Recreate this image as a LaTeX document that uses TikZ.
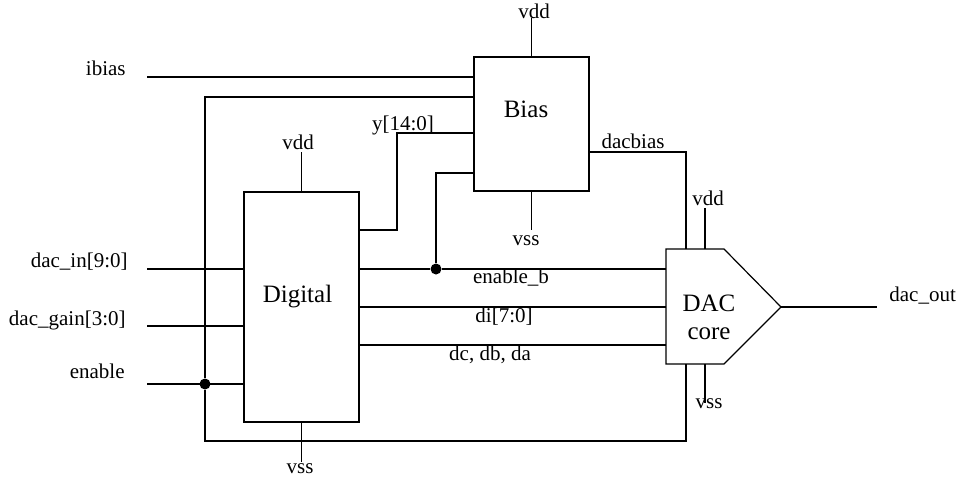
\documentclass[tikz,border=0pt]{standalone}
\usepackage{fontspec}
\setmainfont{Liberation Serif}
\usetikzlibrary{calc}
\tikzset{
  wire/.style={line width=.6pt},
  blk/.style={draw,line width=.6pt,inner sep=0pt},
  lbl/.style={font=\fontsize{10.5}{12}\selectfont,inner sep=1pt},
  blkname/.style={font=\fontsize{12.5}{14}\selectfont,inner sep=0pt},
  joint/.style={circle,fill,inner sep=0pt,minimum size=5.5pt},
}

\begin{document}
\begin{tikzpicture}[x=.5pt,y=-.5pt]
  \useasboundingbox (0,0) rectangle (956,477);

  % blocks
  \node[blk,minimum width=57.5pt,minimum height=115pt] (digital) at (301.5,307) {};
  \node[blkname,anchor=base] (digitaltxt) at (297.5,302) {Digital};
  \node[blk,minimum width=57.5pt,minimum height=67pt] (bias) at (531.5,124) {};
  \node[blkname,anchor=base] (biastxt) at (526,117) {Bias};
  \coordinate (dacnw) at (666,249);
  \coordinate (dacne) at (724,249);
  \coordinate (dactip) at (781,307);
  \coordinate (dacse) at (724,364);
  \coordinate (dacsw) at (666,364);
  \draw[wire] (dacnw) -- (dacne) -- (dactip) -- (dacse) -- (dacsw) -- cycle;
  \node[blkname,anchor=base] (dactxt) at (709,311) {DAC};
  \node[blkname,anchor=base] (coretxt) at (709,339) {core};

  % supply labels
  \node[lbl,anchor=base] (vddbias) at (534,18) {vdd};
  \node[lbl,anchor=base] (vssbias) at (526,245) {vss};
  \node[lbl,anchor=base] (vdddig) at (298,149) {vdd};
  \node[lbl,anchor=base] (vssdig) at (300,473) {vss};
  \node[lbl,anchor=base] (vdddac) at (708,205) {vdd};
  \node[lbl,anchor=base] (vssdac) at (709,408) {vss};
  \draw[wire] (bias.north) -- (bias.north |- vddbias.base);
  \draw[wire] (bias.south) -- (bias.south |- 0,230);
  \draw[wire] (digital.north) -- (digital.north |- 0,152);
  \draw[wire] (digital.south) -- (digital.south |- 0,462);
  \draw[wire] (705,249) -- (705,208);
  \draw[wire] (705,364) -- (705,403);

  % inputs
  \node[lbl,anchor=base east] (ibias) at (128,75) {ibias};
  \node[lbl,anchor=base east] (dacin) at (130,267) {dac\_in[9:0]};
  \node[lbl,anchor=base east] (dacgain) at (128,325) {dac\_gain[3:0]};
  \node[lbl,anchor=base east] (enable) at (127,378) {enable};
  \coordinate (ibiasend) at (147,77);
  \coordinate (dacinend) at (147,269);
  \coordinate (dacgainend) at (147,326);
  \coordinate (enableend) at (147,384);
  \draw[wire] (ibiasend) -- (ibiasend -| bias.west);
  \draw[wire] (dacinend) -- (dacinend -| digital.west);
  \draw[wire] (dacgainend) -- (dacgainend -| digital.west);
  \draw[wire] (enableend) -- (enableend -| digital.west);

  % enable distribution
  \node[joint] (enj) at (205,384) {};
  \coordinate (dacen) at (686,364);
  \draw[wire] (enj) |- (bias.west |- 0,97);
  \draw[wire] (enj) |- (686,441) -- (dacen);

  % digital to bias
  \node[lbl,anchor=base] (ylbl) at (403,130) {y[14:0]};
  \draw[wire] (digital.east |- 0,230) -| (397,133) -- (bias.west |- 0,133);

  % digital to dac
  \node[joint] (enbj) at (436,269) {};
  \draw[wire] (digital.east |- enbj) -- (enbj) -- (enbj -| dacnw);
  \draw[wire] (enbj) |- (bias.west |- 0,173);
  \draw[wire] (digital.east) -- (digital.east -| dacnw);
  \draw[wire] (digital.east |- 0,345) -- (dacnw |- 0,345);
  \node[lbl,anchor=base] (enblbl) at (511,283) {enable\_b};
  \node[lbl,anchor=base] (dilbl) at (504,322) {di[7:0]};
  \node[lbl,anchor=base] (dclbl) at (490,360) {dc, db, da};

  % bias to dac
  \coordinate (dacbi) at (686,249);
  \node[lbl,anchor=base] (dacbias) at (633,148) {dacbias};
  \draw[wire] (bias.east |- 0,152) -| (dacbi);

  % output
  \coordinate (outend) at (877,307);
  \draw[wire] (dactip) -- (outend);
  \node[lbl,anchor=base west] (dacout) at (887,301) {dac\_out};
\end{tikzpicture}
\end{document}
